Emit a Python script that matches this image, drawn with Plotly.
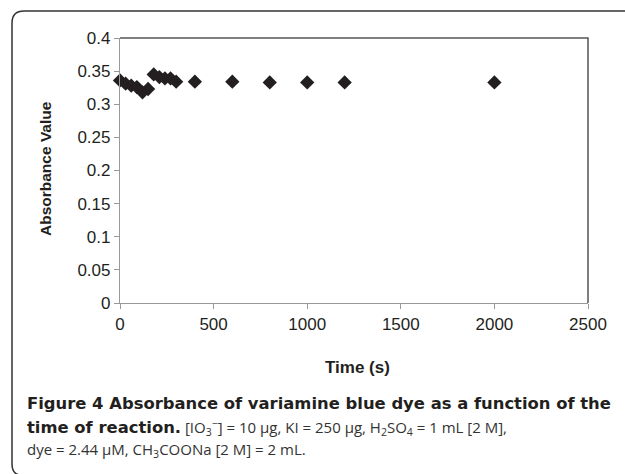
import plotly.graph_objects as go

time_s = [0, 30, 60, 90, 120, 150, 180, 210, 240, 270, 300, 400, 600, 800, 1000, 1200, 2000]
absorbance = [0.336, 0.331, 0.328, 0.326, 0.318, 0.323, 0.345, 0.341, 0.339, 0.339, 0.334,
              0.334, 0.334, 0.333, 0.333, 0.333, 0.333]
y_ticks = [0, 0.05, 0.1, 0.15, 0.2, 0.25, 0.3, 0.35, 0.4]
y_labels = ["0", "0.05", "0.1", "0.15", "0.2", "0.25", "0.3", "0.35", "0.4"]
x_ticks = [0, 500, 1000, 1500, 2000, 2500]
x_labels = ["0", "500", "1000", "1500", "2000", "2500"]

W, H = 625, 474
L, R, T, B = 120, 588, 38, 303

def px(x):
    return (x - L) / (R - L)

def py(y):
    return (B - y) / (B - T)

fig = go.Figure()
fig.add_trace(go.Scatter(
    x=time_s, y=absorbance, mode="markers",
    marker=dict(symbol="diamond", size=11, color="#231f20", line=dict(width=0)),
    showlegend=False, cliponaxis=False,
))

axis_font = dict(family="Liberation Sans, Arial", size=17, color="#231f20")
fig.update_xaxes(range=[0, 2500], tickvals=x_ticks, ticktext=x_labels, ticks="outside",
                 ticklen=5, tickcolor="#999", showline=True, linecolor="#999", linewidth=1.2,
                 showgrid=False, zeroline=False, tickfont=axis_font)
fig.update_yaxes(range=[0, 0.4], tickvals=y_ticks, ticktext=y_labels, ticks="outside",
                 ticklen=5, tickcolor="#999", showline=True, linecolor="#999", linewidth=1.2,
                 showgrid=False, zeroline=False, tickfont=axis_font)

shapes = [
    dict(type="path", xref="paper", yref="paper",
         path="M 0 1 L 1 1 L 1 0", line=dict(color="#555", width=1.5)),
    dict(type="path", xref="paper", yref="paper",
         path=(f"M {px(626)} {py(11)} L {px(24)} {py(11)} Q {px(12)} {py(11)} {px(12)} {py(23)} "
               f"L {px(12)} {py(464)} Q {px(12)} {py(474)} {px(20)} {py(475)}"),
         line=dict(color="#333", width=1.5)),
]

bold_style = "font-family:DejaVu Sans;font-weight:bold;fill:#231f20;font-size:16.4px"
cap_font = dict(family="Open Sans", size=15, color="#333333")
annotations = [
    dict(text="<b>Time (s)</b>", x=px(357), y=py(367), xref="paper", yref="paper",
         showarrow=False, xanchor="center", yanchor="middle",
         font=dict(family="Liberation Sans, Arial", size=17, color="#231f20")),
    dict(text="<b>Absorbance Value</b>", x=px(45), y=py(169), xref="paper", yref="paper",
         showarrow=False, xanchor="center", yanchor="middle", textangle=-90,
         font=dict(family="Liberation Sans, Arial", size=15.5, color="#231f20")),
    dict(text="<b>Figure 4 Absorbance of variamine blue dye as a function of the</b>",
         x=px(25), y=py(403), xref="paper", yref="paper", showarrow=False,
         xanchor="left", yanchor="middle",
         font=dict(family="DejaVu Sans", size=16.4, color="#231f20")),
    dict(text=(f"<span style='{bold_style}'>time of reaction.</span> "
               "[IO<sub>3</sub><sup>−</sup>] = 10 µg, KI = 250 µg, H<sub>2</sub>SO<sub>4</sub> = 1 mL [2 M],"),
         x=px(25), y=py(427), xref="paper", yref="paper", showarrow=False,
         xanchor="left", yanchor="middle", font=cap_font),
    dict(text="dye = 2.44 µM, CH<sub>3</sub>COONa [2 M] = 2 mL.",
         x=px(25), y=py(450), xref="paper", yref="paper", showarrow=False,
         xanchor="left", yanchor="middle", font=cap_font),
]

fig.update_layout(
    width=W, height=H,
    margin=dict(l=L, r=W - R, t=T, b=H - B, pad=0),
    paper_bgcolor="white", plot_bgcolor="white",
    shapes=shapes, annotations=annotations,
)

fig.write_html("out.html", config={"displayModeBar": False},
               post_script="document.body.style.margin='0';document.body.style.overflow='hidden';")
